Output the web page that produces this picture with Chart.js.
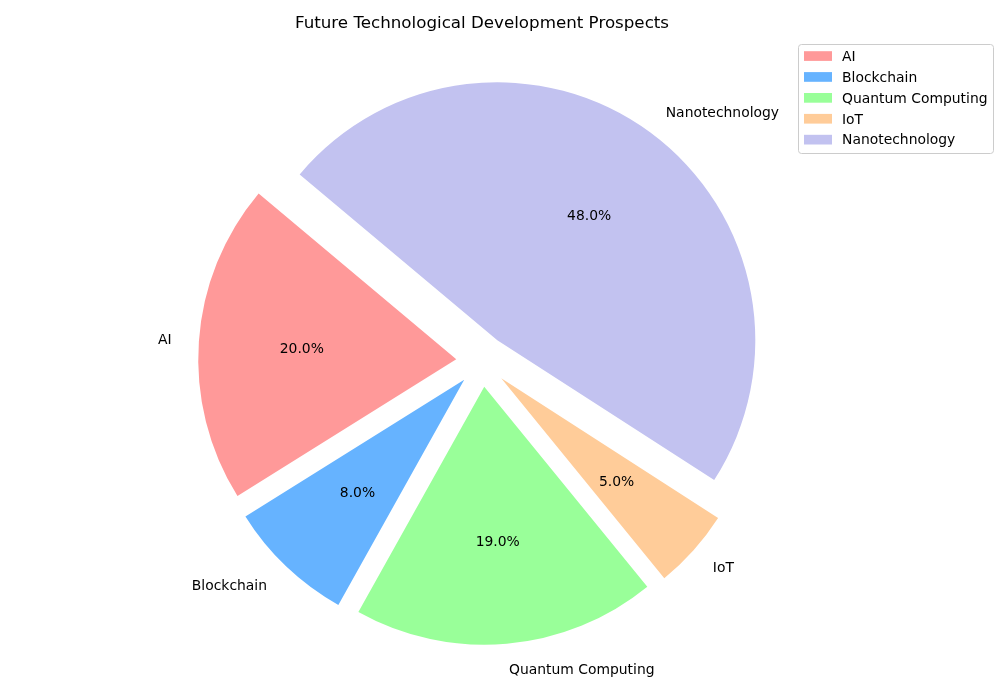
<!DOCTYPE html>
<html>
<head>
<meta charset="utf-8">
<script src="https://cdn.jsdelivr.net/npm/chart.js@4.4.0/dist/chart.umd.min.js"></script>
<style>
    html, body { margin: 0; padding: 0; background: #fff; }
</style>
</head>
<body>
<canvas id="grafico" width="1000" height="700"></canvas>
<script>
// dados
const categorias = ["AI", "Blockchain", "Quantum Computing", "IoT", "Nanotechnology"]
const valores = [20, 8, 19, 5, 48]
const cores = ["#ff9999", "#66b3ff", "#99ff99", "#ffcc99", "#c2c2f0"]
const explodir = [0.1, 0.1, 0.1, 0.1, 0.1]

const fonte = "'DejaVu Sans', 'Liberation Sans', sans-serif"

// matplotlib gira no sentido anti-horario, chart.js no horario -> inverte a ordem
const ordem = categorias.map((_, i) => i).reverse()
const total = valores.reduce((a, b) => a + b, 0)

// rotulos, porcentagens e explode
const pizzaExtra = {
    id: "pizzaExtra",
    afterDatasetUpdate(chart) {
        const arcs = chart.getDatasetMeta(0).data
        arcs.forEach((arc, k) => {
            const i = ordem[k]
            const meio = (arc.startAngle + arc.endAngle) / 2
            const d = explodir[i] * arc.outerRadius
            arc.x += Math.cos(meio) * d
            arc.y += Math.sin(meio) * d
        })
    },
    afterDatasetsDraw(chart) {
        const ctx = chart.ctx
        const arcs = chart.getDatasetMeta(0).data
        ctx.save()
        ctx.font = "13.9px " + fonte
        ctx.fillStyle = "#000"
        ctx.textBaseline = "middle"
        arcs.forEach((arc, k) => {
            const i = ordem[k]
            const meio = (arc.startAngle + arc.endAngle) / 2
            const r = arc.outerRadius
            const c = Math.cos(meio)
            const s = Math.sin(meio)
            const pct = (valores[i] / total * 100).toFixed(1) + "%"
            ctx.textAlign = "center"
            ctx.fillText(pct, arc.x + c * r * 0.6, arc.y + s * r * 0.6 + 1.2)
            ctx.textAlign = c > 0 ? "left" : "right"
            ctx.fillText(categorias[i], arc.x + c * r * 1.1 - (c > 0 ? 0 : 1.5), arc.y + s * r * 1.1 + 1.2)
        })
        ctx.restore()
    },
    afterDraw(chart) {
        // legenda no estilo matplotlib
        const ctx = chart.ctx
        const x0 = 798, y0 = 44, w = 195, h = 109
        ctx.save()
        ctx.beginPath()
        ctx.roundRect(x0 + 0.5, y0 + 0.5, w, h, 3)
        ctx.fillStyle = "rgba(255,255,255,0.8)"
        ctx.fill()
        ctx.strokeStyle = "#cccccc"
        ctx.lineWidth = 1
        ctx.stroke()
        ctx.font = "13.9px " + fonte
        ctx.textBaseline = "middle"
        ctx.textAlign = "left"
        categorias.forEach((nome, i) => {
            const cy = 56 + i * 20.9
            ctx.fillStyle = cores[i]
            ctx.fillRect(804, cy - 4.8, 28, 9.7)
            ctx.fillStyle = "#000"
            ctx.fillText(nome, 842, cy + 1.2)
        })
        ctx.restore()
    }
}

new Chart(document.getElementById("grafico"), {
    type: "pie",
    data: {
        labels: ordem.map(i => categorias[i]),
        datasets: [{
            data: ordem.map(i => valores[i]),
            backgroundColor: ordem.map(i => cores[i]),
            borderWidth: 0,
            hoverOffset: 0
        }]
    },
    options: {
        responsive: false,
        animation: false,
        rotation: -50,
        radius: 258,
        events: [],
        layout: { padding: { left: 0, right: 36, top: 0, bottom: 18 } },
        plugins: {
            legend: { display: false },
            tooltip: { enabled: false },
            title: {
                display: true,
                text: "Future Technological Development Prospects",
                color: "#000",
                font: { family: fonte, size: 16.7, weight: "normal", lineHeight: 1.2 },
                padding: { top: 14, bottom: 6 }
            }
        }
    },
    plugins: [pizzaExtra]
})
</script>
</body>
</html>
